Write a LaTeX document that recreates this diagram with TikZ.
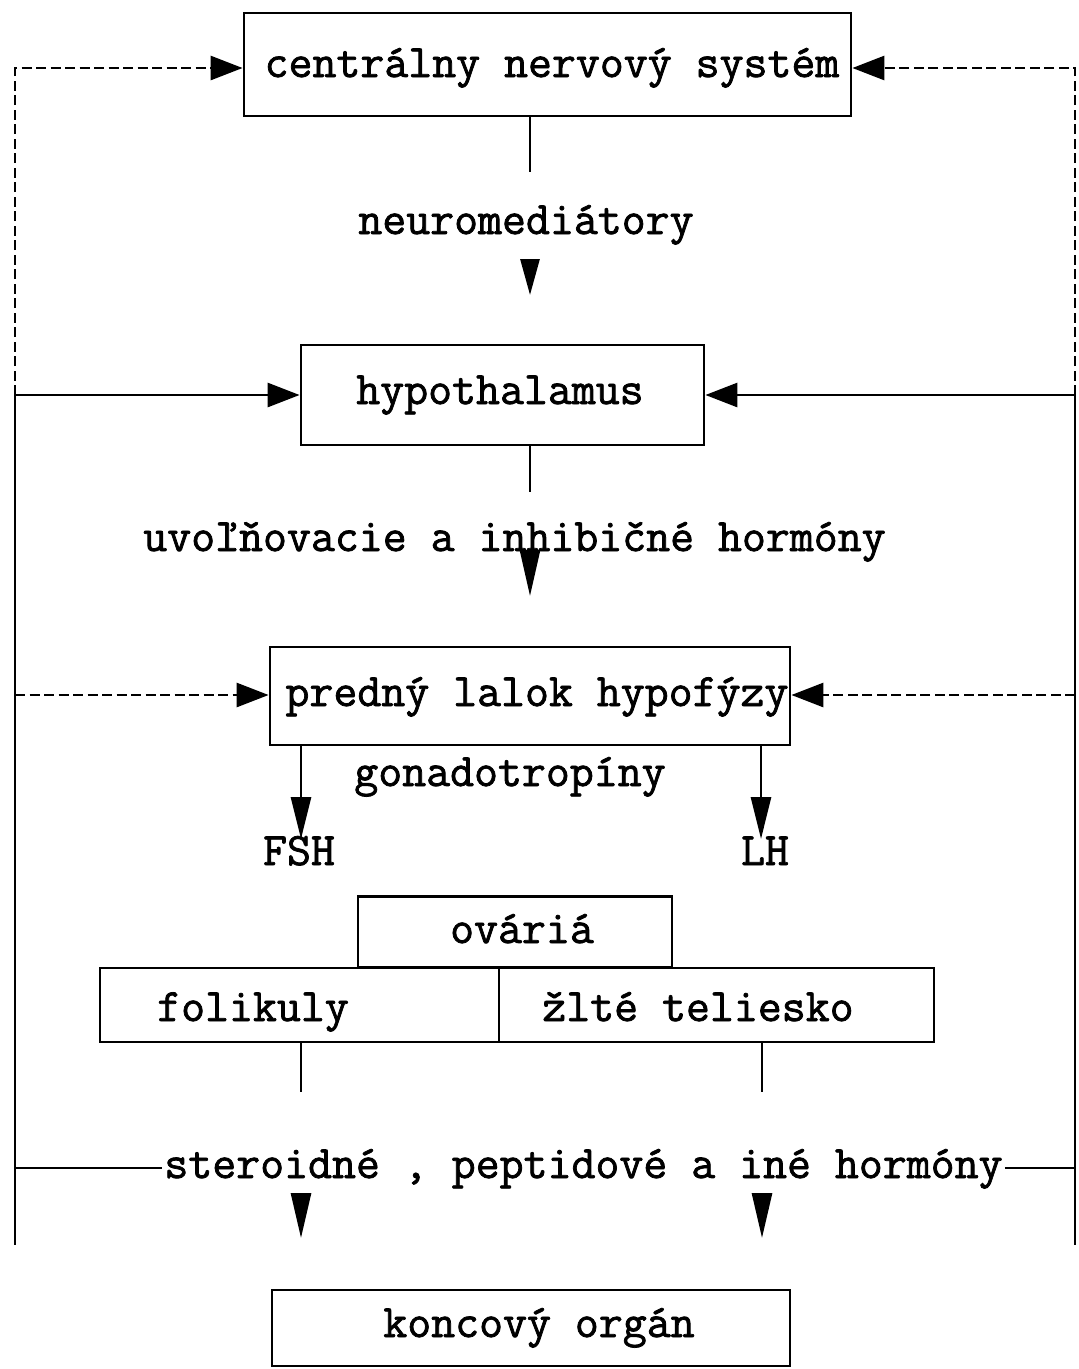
\documentclass[tikz,border=0pt]{standalone}
\usepackage{fontspec}
\newfontfamily\twf{Latin Modern Mono}[FakeBold=1.6]
\usetikzlibrary{arrows.meta}
\begin{document}
\begin{tikzpicture}[x=1pt,y=-1pt,
  line width=2.8pt,
  box/.style={draw, rectangle, inner sep=0pt, line width=2.8pt},
  lbl/.style={font=\twf\fontsize{46.5}{52}\selectfont, inner sep=0pt, anchor=base},
  dsh/.style={dash pattern=on 10pt off 4.5pt},
  htip/.style={-{Triangle[length=32pt,width=24pt]}},
  vtip/.style={-{Triangle[length=42pt,width=20pt]}},
  ntip/.style={-{Triangle[length=36pt,width=19pt]}},
]
\fill[white] (0,0) rectangle (1079,1369);
\useasboundingbox (0,0) rectangle (1079,1369);

% boxes
\node[box, minimum width=607pt, minimum height=103pt] (cns) at (547.5,64.5) {};
\node[box, minimum width=403pt, minimum height=100pt] (hyp) at (502.5,395) {};
\node[box, minimum width=520pt, minimum height=98pt] (pit) at (530,696) {};
\node[box, minimum width=314pt, minimum height=71pt] (ova) at (515,932) {};
\node[box, minimum width=399pt, minimum height=74pt] (fol) at (299.5,1005) {};
\node[box, minimum width=435pt, minimum height=74pt] (zlt) at (716.5,1005) {};
\node[box, minimum width=518pt, minimum height=76pt] (kon) at (531,1328) {};

% texts
\node[lbl] (cnst) at (552,77) {centrálny nervový systém};
\node[lbl] (neut) at (526,234) {neuromediátory};
\node[lbl] (hypt) at (500,404) {hypothalamus};
\node[lbl] (uvot) at (514.5,551) {uvoľňovacie a inhibičné hormóny};
\node[lbl] (pitt) at (537,706) {predný lalok hypofýzy};
\node[lbl] (gont) at (510,786) {gonadotropíny};
\node[lbl] (fsh) at (299,865) {FSH};
\node[lbl] (lh) at (765,865) {LH};
\node[lbl] (ovat) at (522,943) {ováriá};
\node[lbl] (folt) at (253,1021) {folikuly};
\node[lbl] (zltt) at (698,1021) {žlté teliesko};
\node[lbl, inner sep=1pt] (ster) at (583.5,1178) {steroidné , peptidové a iné hormóny};
\node[lbl] (kont) at (539,1337) {koncový orgán};

% coordinates
\coordinate (Lt) at (15,68);
\coordinate (Rt) at (1075,68);
\coordinate (Lh) at (15,395);
\coordinate (Lb) at (15,1245);
\coordinate (Rh) at (1075,395);
\coordinate (Rb) at (1075,1245);
\coordinate (Lp) at (15,695);
\coordinate (Rp) at (1075,695);
\coordinate (Ls) at (15,1168);
\coordinate (Rs) at (1075,1168);

% side feedback lines
\draw[dsh, htip] (Lh) |- (cns.west |- Lt);
\draw[dsh, htip] (Rh) |- (cns.east |- Rt);
\draw (Lh) -- (Lb);
\draw (Rh) -- (Rb);
\draw[htip] (Lh) -- (hyp.west);
\draw[htip] (Rh) -- (hyp.east);
\draw[dsh, htip] (Lp) -- (pit.west |- Lp);
\draw[dsh, htip] (Rp) -- (pit.east |- Rp);
\draw (Ls) -- (ster.west |- Ls);
\draw (ster.east |- Rs) -- (Rs);

% CNS -> hypothalamus
\coordinate (m1) at (530,172);
\coordinate (m2) at (530,259);
\coordinate (m3) at (530,295);
\draw (cns.south -| m1) -- (m1);
\draw[ntip] (m2) -- (m3);

% hypothalamus -> pituitary
\coordinate (h1) at (530,492);
\coordinate (h2) at (530,550);
\coordinate (h3) at (530,596);
\draw (hyp.south -| h1) -- (h1);
\draw[-{Triangle[length=46pt,width=20pt]}] (h2) -- (h3);

% pituitary -> FSH / LH
\coordinate (f1) at (301,839);
\coordinate (l1) at (761,839);
\draw[vtip] (pit.south -| f1) -- (f1);
\draw[vtip] (pit.south -| l1) -- (l1);

% ovaries -> hormones
\coordinate (fb) at (301,1092);
\coordinate (zb) at (762,1092);
\draw (fol.south -| fb) -- (fb);
\draw (zlt.south -| zb) -- (zb);
\coordinate (s1) at (301,1193);
\coordinate (s2) at (301,1238);
\coordinate (s3) at (762,1193);
\coordinate (s4) at (762,1238);
\draw[-{Triangle[length=45pt,width=20pt]}] (s1) -- (s2);
\draw[-{Triangle[length=45pt,width=20pt]}] (s3) -- (s4);
\end{tikzpicture}
\end{document}
